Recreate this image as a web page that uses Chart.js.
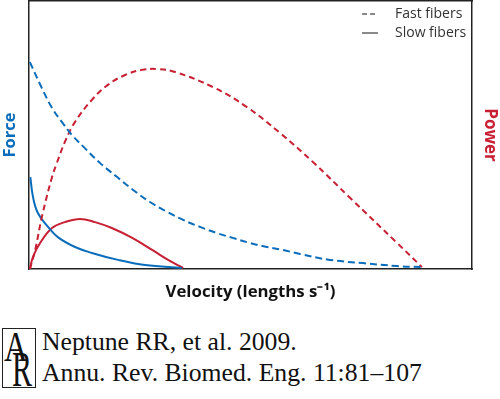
<!DOCTYPE html>
<html>
<head>
<meta charset="utf-8">
<script src="https://cdn.jsdelivr.net/npm/chart.js@4.4.1/dist/chart.umd.min.js"></script>
<style>
  html, body { margin: 0; padding: 0; background: #fff; }
  #wrap { position: relative; width: 500px; height: 399px; overflow: hidden; }
  #chart { position: absolute; left: 0; top: 0; }
  .logo { position: absolute; left: 2px; top: 328px; width: 32px; height: 58px; border: 1px solid #222; overflow: hidden; }
  .logo span { position: absolute; font-family: "Liberation Serif", serif; color: #111; transform-origin: left top; }
  .logo .a { left: 1px; top: -3px; font-size: 42px; line-height: 42px; transform: scaleX(0.78); }
  .logo .r { left: 9px; top: 15px; font-size: 50px; line-height: 50px; transform: scaleX(0.6); }
  .ref { position: absolute; left: 42px; top: 326px; font-family: "Liberation Serif", serif; font-size: 25.7px; line-height: 31px; color: #111; white-space: nowrap; }
</style>
</head>
<body>
<div id="wrap">
  <canvas id="chart" width="500" height="305"></canvas>
  <div class="logo"><span class="a">A</span><span class="r">R</span></div>
  <div class="ref">Neptune RR, et al. 2009.<br>Annu. Rev. Biomed. Eng. 11:81–107</div>
</div>
<script>
// values (velocity and force/power in % of axis range)
const fastForceVel = [0.2, 2.9, 5.2, 7.4, 9.7, 12.6, 16.0, 19.9, 23.5, 27.3, 31.2, 34.8, 38.6, 42.4, 46.0, 49.9, 53.7, 57.3, 61.2, 67.9, 75.4, 83.1, 88.7];
const fastForce = [77.2, 67.5, 60.1, 54.9, 50.0, 45.1, 39.6, 34.3, 29.5, 25.0, 21.3, 18.3, 15.7, 13.4, 11.6, 9.7, 8.2, 7.1, 5.6, 3.4, 2.2, 1.1, 0.7];

const fastPowerVel = [0.2, 1.4, 2.9, 5.2, 6.3, 8.1, 10.4, 14.2, 17.8, 21.7, 25.5, 29.1, 33.0, 41.5, 49.2, 56.7, 64.1, 72.5, 83.1, 88.7];
const fastPower = [0, 7.1, 19.4, 34.3, 39.6, 47.4, 54.9, 63.1, 68.7, 72.4, 74.3, 74.6, 73.5, 67.9, 60.4, 50.7, 39.9, 26.5, 9.7, 0.7];

const slowForceVel = [0.3, 0.9, 2.0, 4.3, 6.5, 10.4, 14.2, 20.1, 26.2, 34.5];
const slowForce = [34.3, 26.9, 20.9, 15.7, 11.9, 8.2, 6.0, 3.4, 1.5, 0.4];

const slowPowerVel = [0.2, 0.9, 2.5, 5.2, 8.1, 11.5, 14.9, 18.7, 23.3, 27.8, 31.4, 34.8];
const slowPower = [0, 4.5, 9.7, 15.3, 17.5, 18.7, 17.5, 15.3, 11.6, 7.1, 3.4, 0.4];

const legendLabels = ['Fast fibers', 'Slow fibers'];
const legendDashes = [[5, 3], []];

const forceColor = '#0a6dbb';
const powerColor = '#c81f33';

const toPoints = (xs, ys) => xs.map((x, i) => ({ x: x, y: ys[i] }));

const fiberLegend = {
    id: 'fiberLegend',
    afterDraw(chart) {
        const { ctx, chartArea } = chart;
        ctx.save();
        ctx.font = '14px "Open Sans", sans-serif';
        ctx.textBaseline = 'middle';
        legendLabels.forEach((label, i) => {
            const y = chartArea.top + 13 + i * 19;
            const x = chartArea.right - 110;
            ctx.strokeStyle = '#8a8a8a';
            ctx.lineWidth = 2;
            ctx.setLineDash(legendDashes[i]);
            ctx.beginPath();
            ctx.moveTo(x, y);
            ctx.lineTo(x + 16, y);
            ctx.stroke();
            ctx.setLineDash([]);
            ctx.fillStyle = '#333';
            ctx.fillText(label, x + 33, y);
        });
        ctx.restore();
    }
};

const hiddenAxis = (extra) => Object.assign({
    min: 0,
    max: 100,
    ticks: { display: false },
    grid: { display: false },
    border: { display: true, color: '#222', width: 1.5 }
}, extra);

new Chart(document.getElementById('chart'), {
    type: 'line',
    data: {
        datasets: [
            {
                label: 'Fast force',
                data: toPoints(fastForceVel, fastForce),
                borderColor: forceColor,
                borderDash: [7, 4],
                yAxisID: 'y'
            },
            {
                label: 'Fast power',
                data: toPoints(fastPowerVel, fastPower),
                borderColor: powerColor,
                borderDash: [6, 4],
                yAxisID: 'y2'
            },
            {
                label: 'Slow force',
                data: toPoints(slowForceVel, slowForce),
                borderColor: forceColor,
                yAxisID: 'y'
            },
            {
                label: 'Slow power',
                data: toPoints(slowPowerVel, slowPower),
                borderColor: powerColor,
                yAxisID: 'y2'
            }
        ]
    },
    options: {
        responsive: false,
        animation: false,
        layout: { padding: 0 },
        elements: {
            line: { borderWidth: 2, tension: 0.4, fill: false },
            point: { radius: 0 }
        },
        plugins: {
            legend: { display: false },
            tooltip: { enabled: false }
        },
        scales: {
            x: hiddenAxis({
                type: 'linear',
                position: 'bottom',
                title: {
                    display: true,
                    text: 'Velocity (lengths s⁻¹)',
                    color: '#111',
                    font: { family: 'Open Sans', size: 16.8, weight: 'bold', lineHeight: 1.2 },
                    padding: { top: 0, bottom: 3 }
                },
                afterFit: (scale) => { scale.height = 36; }
            }),
            x2: hiddenAxis({
                type: 'linear',
                position: 'top',
                afterFit: (scale) => { scale.height = 1; }
            }),
            y: hiddenAxis({
                type: 'linear',
                position: 'left',
                title: {
                    display: true,
                    text: 'Force',
                    color: forceColor,
                    font: { family: 'Open Sans', size: 16.5, weight: 'bold', lineHeight: 1.2 },
                    padding: { top: 0, bottom: 0 }
                },
                afterFit: (scale) => { scale.width = 29; }
            }),
            y2: hiddenAxis({
                type: 'linear',
                position: 'right',
                title: {
                    display: true,
                    text: 'Power',
                    color: powerColor,
                    font: { family: 'Open Sans', size: 17, weight: 'bold', lineHeight: 1.2 },
                    padding: { top: 0, bottom: 0 }
                },
                afterFit: (scale) => { scale.width = 28; }
            })
        }
    },
    plugins: [fiberLegend]
});
</script>
</body>
</html>
